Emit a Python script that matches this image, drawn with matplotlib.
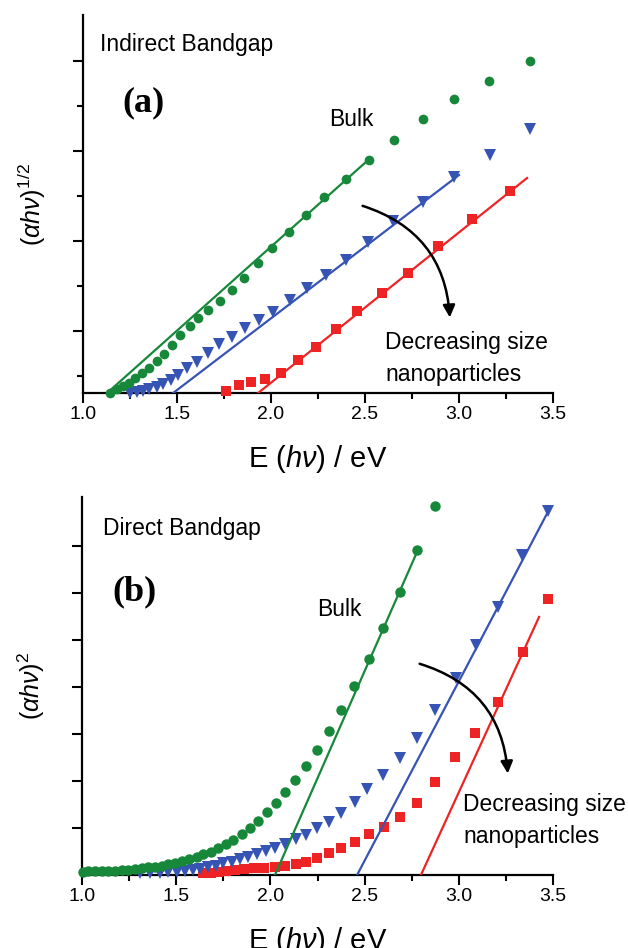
import matplotlib
matplotlib.use("Agg")
import matplotlib.pyplot as plt
from matplotlib.patches import FancyArrowPatch
from matplotlib.ticker import MultipleLocator, FixedLocator, NullFormatter, FormatStrFormatter

plt.rcParams['font.family'] = ['Liberation Sans', 'DejaVu Sans']
plt.rcParams['mathtext.fontset'] = 'custom'
plt.rcParams['mathtext.rm'] = 'Liberation Sans'
plt.rcParams['mathtext.it'] = 'Liberation Sans:italic'
plt.rcParams['mathtext.bf'] = 'Liberation Sans:bold'

GREEN = '#17883a'
BLUE = '#3654b4'
RED = '#ee2424'

# ---- (a) indirect bandgap, (alpha h nu)^1/2 ----
a_E_bulk = [1.144, 1.181, 1.213, 1.245, 1.277, 1.314, 1.351, 1.394, 1.431, 1.473,
            1.516, 1.569, 1.612, 1.665, 1.729, 1.793, 1.856, 1.931, 2.005, 2.096,
            2.186, 2.282, 2.399, 2.521, 2.654, 2.809, 2.973, 3.160, 3.378]
a_y_bulk = [-0.378, -0.289, -0.222, -0.156, -0.044, 0.067, 0.178, 0.333, 0.489, 0.689,
            0.911, 1.111, 1.289, 1.467, 1.667, 1.911, 2.178, 2.511, 2.844, 3.200,
            3.578, 3.978, 4.378, 4.800, 5.244, 5.711, 6.156, 6.556, 7.000]

a_E_mid = [1.250, 1.287, 1.319, 1.351, 1.394, 1.426, 1.468, 1.505, 1.553, 1.606,
           1.665, 1.723, 1.793, 1.862, 1.936, 2.011, 2.101, 2.191, 2.293, 2.399,
           2.516, 2.649, 2.809, 2.973, 3.165, 3.378]
a_y_mid = [-0.378, -0.356, -0.333, -0.289, -0.244, -0.178, -0.089, 0.022, 0.178, 0.311,
           0.511, 0.711, 0.867, 1.067, 1.244, 1.422, 1.689, 1.956, 2.244, 2.578,
           2.978, 3.444, 3.867, 4.422, 4.911, 5.489]

a_E_small = [1.761, 1.830, 1.894, 1.968, 2.053, 2.144, 2.239, 2.346, 2.457, 2.590,
             2.729, 2.888, 3.069, 3.271]
a_y_small = [-0.333, -0.200, -0.133, -0.067, 0.067, 0.356, 0.644, 1.044, 1.444, 1.844,
             2.289, 2.889, 3.489, 4.111]

a_fit_bulk = ([1.128, 2.511], [-0.378, 4.778])
a_fit_mid = ([1.479, 3.000], [-0.378, 4.467])
a_fit_small = ([1.931, 3.362], [-0.378, 4.400])

# ---- (b) direct bandgap, (alpha h nu)^2 ----
b_E_bulk = [2.874, 2.778, 2.688, 2.598, 2.523, 2.444, 2.375, 2.311, 2.247, 2.189,
            2.131, 2.077, 2.030, 1.982, 1.934, 1.892, 1.849, 1.801, 1.764, 1.722,
            1.685, 1.642, 1.610, 1.568, 1.531, 1.494, 1.456, 1.425, 1.387, 1.350,
            1.318, 1.281, 1.244, 1.212, 1.175, 1.138, 1.106, 1.069, 1.032, 1.005]
b_y_bulk = [7.851, 6.915, 6.021, 5.255, 4.596, 4.021, 3.511, 3.064, 2.660, 2.319,
            2.021, 1.766, 1.532, 1.340, 1.149, 1.000, 0.872, 0.745, 0.660, 0.574,
            0.489, 0.447, 0.383, 0.340, 0.290, 0.265, 0.230, 0.200, 0.180, 0.160,
            0.145, 0.130, 0.115, 0.105, 0.095, 0.090, 0.085, 0.080, 0.075, 0.070]

b_E_mid = [3.473, 3.335, 3.208, 3.091, 2.985, 2.874, 2.778, 2.688, 2.598, 2.513,
           2.449, 2.375, 2.311, 2.247, 2.189, 2.136, 2.077, 2.024, 1.977, 1.929,
           1.881, 1.839, 1.796, 1.748, 1.711, 1.669, 1.626, 1.589, 1.547, 1.504,
           1.456, 1.414, 1.361, 1.308]
b_y_mid = [7.745, 6.809, 5.702, 4.894, 4.191, 3.511, 2.915, 2.489, 2.128, 1.830,
           1.553, 1.319, 1.128, 1.000, 0.851, 0.766, 0.660, 0.574, 0.511, 0.447,
           0.383, 0.340, 0.277, 0.255, 0.191, 0.170, 0.128, 0.106, 0.080, 0.065,
           0.055, 0.045, 0.040, 0.035]

b_E_small = [3.473, 3.341, 3.208, 3.086, 2.980, 2.874, 2.778, 2.688, 2.603, 2.523,
             2.449, 2.375, 2.311, 2.247, 2.189, 2.136, 2.077, 2.024, 1.966, 1.913,
             1.860, 1.812, 1.764, 1.722, 1.685, 1.642]
b_y_small = [5.872, 4.745, 3.681, 3.021, 2.511, 1.979, 1.532, 1.234, 1.021, 0.872,
             0.702, 0.574, 0.468, 0.362, 0.277, 0.234, 0.191, 0.170, 0.149, 0.149,
             0.128, 0.106, 0.085, 0.060, 0.045, 0.035]

b_fit_bulk = ([2.024, 2.783], [0.0, 6.915])
b_fit_mid = ([2.460, 3.484], [0.0, 7.809])
b_fit_small = ([2.799, 3.426], [0.0, 5.489])


def style_axes(ax, ylim, ymajor, yminor):
    ax.set_xlim(1.0, 3.5)
    ax.set_ylim(*ylim)
    for s in ['top', 'right']:
        ax.spines[s].set_visible(False)
    for s in ['left', 'bottom']:
        ax.spines[s].set_linewidth(1.6)
    ax.xaxis.set_major_locator(MultipleLocator(0.5))
    ax.xaxis.set_minor_locator(MultipleLocator(0.25))
    ax.xaxis.set_major_formatter(FormatStrFormatter('%.1f'))
    ax.yaxis.set_major_locator(FixedLocator(ymajor))
    ax.yaxis.set_minor_locator(FixedLocator(yminor))
    ax.yaxis.set_major_formatter(NullFormatter())
    ax.tick_params(axis='both', which='major', direction='out', length=7, width=1.5,
                   labelsize=14, pad=2.5)
    ax.tick_params(axis='both', which='minor', direction='out', length=4.5, width=1.5)
    ax.set_xlabel(r'E ($h\nu$) / eV', fontsize=21, labelpad=14)


def draw_series(ax, E, y, marker, color, ms, z):
    ax.plot(E, y, linestyle='none', marker=marker, color=color, ms=ms,
            markeredgewidth=0, zorder=z, clip_on=False)


def draw_arrow(ax, start, end):
    arr = FancyArrowPatch(start, end, connectionstyle='arc3,rad=-0.35',
                          arrowstyle='-|>', mutation_scale=18, lw=1.8,
                          color='black', zorder=6)
    ax.add_patch(arr)


fig = plt.figure(figsize=(6.28, 9.48), dpi=100)
ax1 = fig.add_axes([0.1322, 0.5854, 0.7484, 0.3987])
ax2 = fig.add_axes([0.1306, 0.0770, 0.7500, 0.3987])

# panel (a)
style_axes(ax1, (-0.378, 8.02), [1, 3, 5, 7], [0, 2, 4, 6])
draw_series(ax1, a_E_small, a_y_small, 's', RED, 6.5, 3)
draw_series(ax1, a_E_mid, a_y_mid, 'v', BLUE, 8, 3)
draw_series(ax1, a_E_bulk, a_y_bulk, 'o', GREEN, 7, 3)
ax1.plot(*a_fit_bulk, color=GREEN, lw=1.6, zorder=4)
ax1.plot(*a_fit_mid, color=BLUE, lw=1.6, zorder=4)
ax1.plot(*a_fit_small, color=RED, lw=1.6, zorder=4)
ax1.set_ylabel(r'$(\alpha h\nu)^{\mathrm{1/2}}$', fontsize=18, labelpad=16)
ax1.text(1.09, 7.36, 'Indirect Bandgap', fontsize=16.5, va='center')
ax1.text(1.21, 6.07, '(a)', fontsize=26, fontweight='bold', va='center',
         family='Liberation Serif')
ax1.text(2.31, 5.69, 'Bulk', fontsize=16.5, va='center')
ax1.text(2.606, 0.38, 'Decreasing size\nnanoparticles', fontsize=16.5, va='center',
         linespacing=1.5)
draw_arrow(ax1, (2.473, 3.80), (2.952, 1.24))

# panel (b)
style_axes(ax2, (0.0, 8.04), [1, 2, 3, 4, 5, 6, 7], [])
draw_series(ax2, b_E_small, b_y_small, 's', RED, 6.5, 3)
draw_series(ax2, b_E_mid, b_y_mid, 'v', BLUE, 8, 3.1)
draw_series(ax2, b_E_bulk, b_y_bulk, 'o', GREEN, 7.5, 3.2)
ax2.plot(*b_fit_bulk, color=GREEN, lw=1.6, zorder=4)
ax2.plot(*b_fit_mid, color=BLUE, lw=1.6, zorder=4)
ax2.plot(*b_fit_small, color=RED, lw=1.6, zorder=4)
ax2.set_ylabel(r'$(\alpha h\nu)^{\mathrm{2}}$', fontsize=18, labelpad=16)
ax2.text(1.111, 7.38, 'Direct Bandgap', fontsize=16.5, va='center')
ax2.text(1.159, 6.02, '(b)', fontsize=26, fontweight='bold', va='center',
         family='Liberation Serif')
ax2.text(2.247, 5.64, 'Bulk', fontsize=16.5, va='center')
ax2.text(3.022, 1.17, 'Decreasing size\nnanoparticles', fontsize=16.5, va='center',
         linespacing=1.5)
draw_arrow(ax2, (2.778, 4.51), (3.261, 2.10))

fig.savefig('out.png', dpi=100)
